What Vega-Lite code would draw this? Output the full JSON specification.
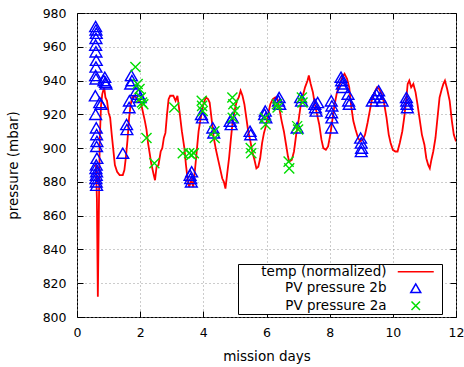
{
  "$schema": "https://vega.github.io/schema/vega-lite/v6.json",
  "width": 379,
  "height": 304,
  "autosize": {"type": "none"},
  "padding": {"left": 77, "top": 13, "right": 8, "bottom": 50},
  "config": {
    "view": {"stroke": "black", "strokeWidth": 1},
    "font": "DejaVu Sans",
    "axis": {
      "labelFont": "DejaVu Sans", "labelFontSize": 12.5, "labelColor": "black", "labelFlush": false, "labelOverlap": false,
      "titleFont": "DejaVu Sans", "titleFontSize": 13.5, "titleFontWeight": "normal", "titleColor": "black",
      "domain": false, "tickColor": "black", "tickSize": -6, "tickWidth": 1,
      "gridColor": "#999999", "gridDash": [1, 3], "gridWidth": 1
    },
    "legend": {
      "labelFont": "DejaVu Sans", "labelFontSize": 13.5, "labelColor": "black"
    }
  },
  "data": {"values": [
    {"series":"temp (normalized)","day":0.60,"p":890},{"series":"temp (normalized)","day":0.63,"p":870},{"series":"temp (normalized)","day":0.66,"p":812},{"series":"temp (normalized)","day":0.69,"p":860},{"series":"temp (normalized)","day":0.72,"p":905},{"series":"temp (normalized)","day":0.76,"p":925},{"series":"temp (normalized)","day":0.80,"p":932},{"series":"temp (normalized)","day":0.86,"p":936},{"series":"temp (normalized)","day":0.90,"p":930},{"series":"temp (normalized)","day":0.95,"p":928},{"series":"temp (normalized)","day":1.00,"p":921},{"series":"temp (normalized)","day":1.05,"p":918},{"series":"temp (normalized)","day":1.10,"p":908},{"series":"temp (normalized)","day":1.15,"p":899},{"series":"temp (normalized)","day":1.20,"p":890},{"series":"temp (normalized)","day":1.27,"p":886},{"series":"temp (normalized)","day":1.35,"p":884},{"series":"temp (normalized)","day":1.45,"p":884},{"series":"temp (normalized)","day":1.50,"p":887},{"series":"temp (normalized)","day":1.55,"p":895},{"series":"temp (normalized)","day":1.60,"p":905},{"series":"temp (normalized)","day":1.65,"p":918},{"series":"temp (normalized)","day":1.70,"p":926},{"series":"temp (normalized)","day":1.75,"p":930},{"series":"temp (normalized)","day":1.80,"p":931},{"series":"temp (normalized)","day":1.87,"p":930},{"series":"temp (normalized)","day":1.95,"p":928},{"series":"temp (normalized)","day":2.02,"p":927},{"series":"temp (normalized)","day":2.08,"p":922},{"series":"temp (normalized)","day":2.15,"p":916},{"series":"temp (normalized)","day":2.20,"p":911},{"series":"temp (normalized)","day":2.25,"p":903},{"series":"temp (normalized)","day":2.30,"p":897},{"series":"temp (normalized)","day":2.35,"p":891},{"series":"temp (normalized)","day":2.42,"p":885},{"series":"temp (normalized)","day":2.47,"p":881},{"series":"temp (normalized)","day":2.52,"p":889},{"series":"temp (normalized)","day":2.58,"p":890},{"series":"temp (normalized)","day":2.65,"p":898},{"series":"temp (normalized)","day":2.70,"p":900},{"series":"temp (normalized)","day":2.75,"p":906},{"series":"temp (normalized)","day":2.80,"p":909},{"series":"temp (normalized)","day":2.85,"p":920},{"series":"temp (normalized)","day":2.90,"p":929},{"series":"temp (normalized)","day":2.95,"p":931},{"series":"temp (normalized)","day":3.05,"p":931},{"series":"temp (normalized)","day":3.12,"p":928},{"series":"temp (normalized)","day":3.18,"p":931},{"series":"temp (normalized)","day":3.25,"p":921},{"series":"temp (normalized)","day":3.32,"p":910},{"series":"temp (normalized)","day":3.40,"p":900},{"series":"temp (normalized)","day":3.45,"p":890},{"series":"temp (normalized)","day":3.50,"p":882},{"series":"temp (normalized)","day":3.55,"p":877},{"series":"temp (normalized)","day":3.62,"p":881},{"series":"temp (normalized)","day":3.68,"p":877},{"series":"temp (normalized)","day":3.75,"p":890},{"series":"temp (normalized)","day":3.80,"p":900},{"series":"temp (normalized)","day":3.85,"p":910},{"series":"temp (normalized)","day":3.92,"p":918},{"series":"temp (normalized)","day":4.00,"p":926},{"series":"temp (normalized)","day":4.08,"p":930},{"series":"temp (normalized)","day":4.15,"p":929},{"series":"temp (normalized)","day":4.20,"p":927},{"series":"temp (normalized)","day":4.27,"p":916},{"series":"temp (normalized)","day":4.33,"p":906},{"series":"temp (normalized)","day":4.40,"p":899},{"series":"temp (normalized)","day":4.47,"p":893},{"series":"temp (normalized)","day":4.53,"p":888},{"series":"temp (normalized)","day":4.60,"p":882},{"series":"temp (normalized)","day":4.65,"p":880},{"series":"temp (normalized)","day":4.70,"p":876},{"series":"temp (normalized)","day":4.75,"p":884},{"series":"temp (normalized)","day":4.82,"p":895},{"series":"temp (normalized)","day":4.87,"p":905},{"series":"temp (normalized)","day":4.93,"p":916},{"series":"temp (normalized)","day":5.00,"p":923},{"series":"temp (normalized)","day":5.06,"p":928},{"series":"temp (normalized)","day":5.12,"p":930},{"series":"temp (normalized)","day":5.18,"p":934},{"series":"temp (normalized)","day":5.24,"p":931},{"series":"temp (normalized)","day":5.30,"p":926},{"series":"temp (normalized)","day":5.36,"p":918},{"series":"temp (normalized)","day":5.42,"p":910},{"series":"temp (normalized)","day":5.48,"p":905},{"series":"temp (normalized)","day":5.55,"p":898},{"series":"temp (normalized)","day":5.62,"p":893},{"series":"temp (normalized)","day":5.68,"p":888},{"series":"temp (normalized)","day":5.74,"p":889},{"series":"temp (normalized)","day":5.80,"p":894},{"series":"temp (normalized)","day":5.86,"p":903},{"series":"temp (normalized)","day":5.92,"p":909},{"series":"temp (normalized)","day":5.98,"p":913},{"series":"temp (normalized)","day":6.05,"p":920},{"series":"temp (normalized)","day":6.12,"p":926},{"series":"temp (normalized)","day":6.20,"p":929},{"series":"temp (normalized)","day":6.28,"p":930},{"series":"temp (normalized)","day":6.35,"p":929},{"series":"temp (normalized)","day":6.42,"p":922},{"series":"temp (normalized)","day":6.48,"p":916},{"series":"temp (normalized)","day":6.55,"p":910},{"series":"temp (normalized)","day":6.62,"p":902},{"series":"temp (normalized)","day":6.68,"p":895},{"series":"temp (normalized)","day":6.72,"p":892},{"series":"temp (normalized)","day":6.80,"p":893},{"series":"temp (normalized)","day":6.87,"p":898},{"series":"temp (normalized)","day":6.94,"p":908},{"series":"temp (normalized)","day":7.02,"p":917},{"series":"temp (normalized)","day":7.08,"p":925},{"series":"temp (normalized)","day":7.15,"p":931},{"series":"temp (normalized)","day":7.22,"p":936},{"series":"temp (normalized)","day":7.30,"p":940},{"series":"temp (normalized)","day":7.34,"p":943},{"series":"temp (normalized)","day":7.40,"p":938},{"series":"temp (normalized)","day":7.47,"p":933},{"series":"temp (normalized)","day":7.53,"p":926},{"series":"temp (normalized)","day":7.60,"p":920},{"series":"temp (normalized)","day":7.67,"p":914},{"series":"temp (normalized)","day":7.74,"p":905},{"series":"temp (normalized)","day":7.80,"p":900},{"series":"temp (normalized)","day":7.88,"p":899},{"series":"temp (normalized)","day":7.95,"p":901},{"series":"temp (normalized)","day":8.02,"p":908},{"series":"temp (normalized)","day":8.08,"p":916},{"series":"temp (normalized)","day":8.15,"p":925},{"series":"temp (normalized)","day":8.22,"p":932},{"series":"temp (normalized)","day":8.30,"p":937},{"series":"temp (normalized)","day":8.40,"p":942},{"series":"temp (normalized)","day":8.47,"p":944},{"series":"temp (normalized)","day":8.55,"p":941},{"series":"temp (normalized)","day":8.62,"p":936},{"series":"temp (normalized)","day":8.68,"p":925},{"series":"temp (normalized)","day":8.75,"p":916},{"series":"temp (normalized)","day":8.82,"p":911},{"series":"temp (normalized)","day":8.90,"p":906},{"series":"temp (normalized)","day":8.97,"p":904},{"series":"temp (normalized)","day":9.05,"p":905},{"series":"temp (normalized)","day":9.12,"p":908},{"series":"temp (normalized)","day":9.20,"p":915},{"series":"temp (normalized)","day":9.27,"p":922},{"series":"temp (normalized)","day":9.33,"p":928},{"series":"temp (normalized)","day":9.42,"p":933},{"series":"temp (normalized)","day":9.50,"p":936},{"series":"temp (normalized)","day":9.57,"p":935},{"series":"temp (normalized)","day":9.65,"p":932},{"series":"temp (normalized)","day":9.72,"p":927},{"series":"temp (normalized)","day":9.80,"p":918},{"series":"temp (normalized)","day":9.87,"p":908},{"series":"temp (normalized)","day":9.93,"p":903},{"series":"temp (normalized)","day":10.00,"p":899},{"series":"temp (normalized)","day":10.08,"p":898},{"series":"temp (normalized)","day":10.15,"p":898},{"series":"temp (normalized)","day":10.22,"p":903},{"series":"temp (normalized)","day":10.30,"p":910},{"series":"temp (normalized)","day":10.36,"p":918},{"series":"temp (normalized)","day":10.42,"p":928},{"series":"temp (normalized)","day":10.47,"p":938},{"series":"temp (normalized)","day":10.52,"p":940},{"series":"temp (normalized)","day":10.58,"p":936},{"series":"temp (normalized)","day":10.65,"p":938},{"series":"temp (normalized)","day":10.72,"p":933},{"series":"temp (normalized)","day":10.78,"p":926},{"series":"temp (normalized)","day":10.85,"p":917},{"series":"temp (normalized)","day":10.92,"p":908},{"series":"temp (normalized)","day":11.00,"p":902},{"series":"temp (normalized)","day":11.06,"p":894},{"series":"temp (normalized)","day":11.12,"p":890},{"series":"temp (normalized)","day":11.17,"p":888},{"series":"temp (normalized)","day":11.22,"p":893},{"series":"temp (normalized)","day":11.28,"p":898},{"series":"temp (normalized)","day":11.35,"p":906},{"series":"temp (normalized)","day":11.42,"p":919},{"series":"temp (normalized)","day":11.48,"p":930},{"series":"temp (normalized)","day":11.55,"p":935},{"series":"temp (normalized)","day":11.60,"p":938},{"series":"temp (normalized)","day":11.65,"p":940},{"series":"temp (normalized)","day":11.72,"p":935},{"series":"temp (normalized)","day":11.80,"p":928},{"series":"temp (normalized)","day":11.87,"p":916},{"series":"temp (normalized)","day":11.93,"p":908},{"series":"temp (normalized)","day":12.00,"p":904},

    {"series":"PV pressure 2b","day":0.59,"p":972},{"series":"PV pressure 2b","day":0.60,"p":970},{"series":"PV pressure 2b","day":0.61,"p":968},{"series":"PV pressure 2b","day":0.60,"p":965},{"series":"PV pressure 2b","day":0.59,"p":961},{"series":"PV pressure 2b","day":0.60,"p":957},{"series":"PV pressure 2b","day":0.61,"p":952},{"series":"PV pressure 2b","day":0.60,"p":948},{"series":"PV pressure 2b","day":0.59,"p":943},{"series":"PV pressure 2b","day":0.60,"p":941},{"series":"PV pressure 2b","day":0.58,"p":931},{"series":"PV pressure 2b","day":0.59,"p":920},{"series":"PV pressure 2b","day":0.61,"p":912},{"series":"PV pressure 2b","day":0.62,"p":908},{"series":"PV pressure 2b","day":0.63,"p":904},{"series":"PV pressure 2b","day":0.62,"p":901},{"series":"PV pressure 2b","day":0.63,"p":894},{"series":"PV pressure 2b","day":0.61,"p":890},{"series":"PV pressure 2b","day":0.60,"p":888},{"series":"PV pressure 2b","day":0.62,"p":886},{"series":"PV pressure 2b","day":0.61,"p":884},{"series":"PV pressure 2b","day":0.60,"p":882},{"series":"PV pressure 2b","day":0.61,"p":880},{"series":"PV pressure 2b","day":0.62,"p":878},
    {"series":"PV pressure 2b","day":0.72,"p":927},{"series":"PV pressure 2b","day":0.76,"p":926},{"series":"PV pressure 2b","day":0.85,"p":940},{"series":"PV pressure 2b","day":0.88,"p":942},{"series":"PV pressure 2b","day":0.90,"p":939},{"series":"PV pressure 2b","day":0.92,"p":938},
    {"series":"PV pressure 2b","day":1.45,"p":897},{"series":"PV pressure 2b","day":1.57,"p":914},{"series":"PV pressure 2b","day":1.58,"p":911},{"series":"PV pressure 2b","day":1.65,"p":924},{"series":"PV pressure 2b","day":1.66,"p":928},{"series":"PV pressure 2b","day":1.70,"p":938},{"series":"PV pressure 2b","day":1.72,"p":943},{"series":"PV pressure 2b","day":1.74,"p":940},{"series":"PV pressure 2b","day":1.88,"p":934},{"series":"PV pressure 2b","day":1.95,"p":932},{"series":"PV pressure 2b","day":2.00,"p":930},
    {"series":"PV pressure 2b","day":3.58,"p":884},{"series":"PV pressure 2b","day":3.60,"p":882},{"series":"PV pressure 2b","day":3.62,"p":880},{"series":"PV pressure 2b","day":3.63,"p":886},
    {"series":"PV pressure 2b","day":3.94,"p":920},{"series":"PV pressure 2b","day":3.97,"p":918},
    {"series":"PV pressure 2b","day":4.30,"p":912},{"series":"PV pressure 2b","day":4.33,"p":909},
    {"series":"PV pressure 2b","day":4.85,"p":916},{"series":"PV pressure 2b","day":4.88,"p":914},{"series":"PV pressure 2b","day":4.92,"p":918},
    {"series":"PV pressure 2b","day":5.48,"p":910},{"series":"PV pressure 2b","day":5.50,"p":908},
    {"series":"PV pressure 2b","day":5.94,"p":920},{"series":"PV pressure 2b","day":5.96,"p":922},{"series":"PV pressure 2b","day":5.98,"p":918},
    {"series":"PV pressure 2b","day":6.38,"p":928},{"series":"PV pressure 2b","day":6.40,"p":930},{"series":"PV pressure 2b","day":6.42,"p":926},
    {"series":"PV pressure 2b","day":6.97,"p":912},{"series":"PV pressure 2b","day":7.08,"p":930},{"series":"PV pressure 2b","day":7.11,"p":928},
    {"series":"PV pressure 2b","day":7.53,"p":926},{"series":"PV pressure 2b","day":7.55,"p":924},{"series":"PV pressure 2b","day":7.57,"p":922},{"series":"PV pressure 2b","day":7.62,"p":927},
    {"series":"PV pressure 2b","day":8.05,"p":928},{"series":"PV pressure 2b","day":8.07,"p":925},{"series":"PV pressure 2b","day":8.06,"p":921},{"series":"PV pressure 2b","day":8.07,"p":918},{"series":"PV pressure 2b","day":8.06,"p":912},
    {"series":"PV pressure 2b","day":8.36,"p":942},{"series":"PV pressure 2b","day":8.38,"p":940},{"series":"PV pressure 2b","day":8.40,"p":938},{"series":"PV pressure 2b","day":8.42,"p":936},
    {"series":"PV pressure 2b","day":8.58,"p":932},{"series":"PV pressure 2b","day":8.60,"p":928},{"series":"PV pressure 2b","day":8.62,"p":926},
    {"series":"PV pressure 2b","day":8.98,"p":906},{"series":"PV pressure 2b","day":9.00,"p":903},{"series":"PV pressure 2b","day":9.01,"p":900},{"series":"PV pressure 2b","day":9.00,"p":898},
    {"series":"PV pressure 2b","day":9.35,"p":928},{"series":"PV pressure 2b","day":9.42,"p":930},{"series":"PV pressure 2b","day":9.48,"p":932},{"series":"PV pressure 2b","day":9.55,"p":934},{"series":"PV pressure 2b","day":9.60,"p":930},{"series":"PV pressure 2b","day":9.66,"p":928},
    {"series":"PV pressure 2b","day":10.43,"p":930},{"series":"PV pressure 2b","day":10.44,"p":928},{"series":"PV pressure 2b","day":10.45,"p":926},{"series":"PV pressure 2b","day":10.46,"p":924},

    {"series":"PV pressure 2a","day":1.85,"p":948},{"series":"PV pressure 2a","day":1.92,"p":938},{"series":"PV pressure 2a","day":1.98,"p":935},{"series":"PV pressure 2a","day":2.02,"p":930},{"series":"PV pressure 2a","day":2.06,"p":927},{"series":"PV pressure 2a","day":2.10,"p":926},{"series":"PV pressure 2a","day":2.20,"p":906},{"series":"PV pressure 2a","day":2.45,"p":891},{"series":"PV pressure 2a","day":3.08,"p":924},{"series":"PV pressure 2a","day":3.35,"p":897},{"series":"PV pressure 2a","day":3.55,"p":897},{"series":"PV pressure 2a","day":3.62,"p":896},{"series":"PV pressure 2a","day":3.70,"p":897},{"series":"PV pressure 2a","day":3.95,"p":928},{"series":"PV pressure 2a","day":3.96,"p":925},{"series":"PV pressure 2a","day":3.98,"p":922},{"series":"PV pressure 2a","day":4.35,"p":910},{"series":"PV pressure 2a","day":4.36,"p":906},{"series":"PV pressure 2a","day":4.92,"p":930},{"series":"PV pressure 2a","day":4.95,"p":926},{"series":"PV pressure 2a","day":5.00,"p":922},{"series":"PV pressure 2a","day":4.93,"p":918},{"series":"PV pressure 2a","day":5.50,"p":900},{"series":"PV pressure 2a","day":5.52,"p":897},{"series":"PV pressure 2a","day":5.95,"p":918},{"series":"PV pressure 2a","day":5.97,"p":914},{"series":"PV pressure 2a","day":6.33,"p":926},{"series":"PV pressure 2a","day":6.35,"p":924},{"series":"PV pressure 2a","day":6.70,"p":892},{"series":"PV pressure 2a","day":6.72,"p":888},{"series":"PV pressure 2a","day":6.97,"p":913},{"series":"PV pressure 2a","day":7.00,"p":911},{"series":"PV pressure 2a","day":7.12,"p":930},{"series":"PV pressure 2a","day":7.14,"p":927}
  ]},
  "layer": [
    {
      "transform": [{"filter": "datum.series === 'temp (normalized)'"}],
      "mark": {"type": "line", "strokeWidth": 1.8, "clip": true},
      "encoding": {
        "x": {"field": "day", "type": "quantitative", "scale": {"domain": [0, 12], "nice": false, "zero": false},
              "axis": {"orient": "bottom", "title": "mission days", "values": [0,2,4,6,8,10,12], "grid": true, "labelPadding": 15, "titlePadding": 11}},
        "y": {"field": "p", "type": "quantitative", "scale": {"domain": [800, 980], "nice": false, "zero": false},
              "axis": {"orient": "left", "title": "pressure (mbar)", "values": [800,820,840,860,880,900,920,940,960,980], "grid": true, "labelPadding": 17, "titlePadding": 22}},
        "color": {"field": "series", "type": "nominal",
                  "scale": {"domain": ["temp (normalized)", "PV pressure 2b", "PV pressure 2a"], "range": ["#ff0000", "#0000ff", "#00dd00"]},
                  "legend": {"title": null, "orient": "none", "legendX": 161, "legendY": 251,
                             "strokeColor": "black", "fillColor": "white", "padding": 1,
                             "labelAlign": "right", "labelOffset": -36, "symbolOffset": 170, "rowPadding": 1.5,
                             "symbolStrokeWidth": 1.5}}
      }
    },
    {
      "transform": [{"filter": "datum.series !== 'temp (normalized)'"}],
      "mark": {"type": "point", "filled": false, "size": 140, "strokeWidth": 1.4, "opacity": 1},
      "encoding": {
        "x": {"field": "day", "type": "quantitative", "scale": {"domain": [0, 12], "nice": false, "zero": false},
              "axis": {"orient": "top", "title": null, "labels": false, "grid": false, "values": [0,2,4,6,8,10,12]}},
        "y": {"field": "p", "type": "quantitative", "scale": {"domain": [800, 980], "nice": false, "zero": false},
              "axis": {"orient": "right", "title": null, "labels": false, "grid": false, "values": [800,820,840,860,880,900,920,940,960,980]}},
        "color": {"field": "series", "type": "nominal",
                  "legend": {"title": null, "orient": "none", "legendX": 161, "legendY": 251,
                             "strokeColor": "black", "fillColor": "white", "padding": 1,
                             "labelAlign": "right", "labelOffset": -36, "symbolOffset": 170, "rowPadding": 1.5,
                             "symbolStrokeWidth": 1.5}},
        "shape": {"field": "series", "type": "nominal",
                  "scale": {"domain": ["temp (normalized)", "PV pressure 2b", "PV pressure 2a"], "range": ["M-3.6,0L3.6,0M4.3,0", "triangle-up", "M-0.85,-0.85L0.85,0.85M0.85,-0.85L-0.85,0.85"]},
                  "legend": {"title": null, "orient": "none", "legendX": 161, "legendY": 251,
                             "strokeColor": "black", "fillColor": "white", "padding": 1,
                             "labelAlign": "right", "labelOffset": -36, "symbolOffset": 170, "rowPadding": 1.5,
                             "symbolStrokeWidth": 1.5}}
      }
    }
  ],
  "resolve": {"axis": {"x": "independent", "y": "independent"}}
}
